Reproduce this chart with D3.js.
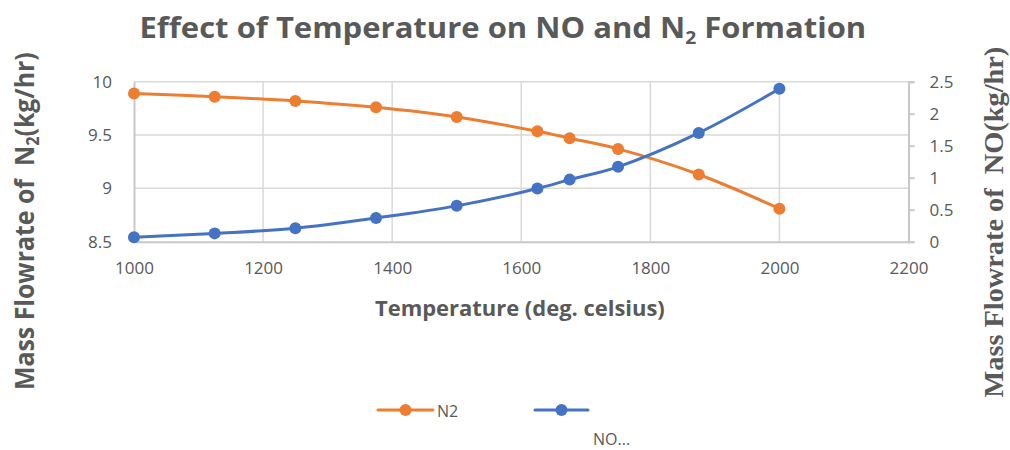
<!DOCTYPE html>
<html>
<head>
<meta charset="utf-8">
<script src="https://cdn.jsdelivr.net/npm/d3@7"></script>
<style>
  html, body { margin: 0; padding: 0; background: #ffffff; }
  svg { display: block; }
  text { font-family: "Open Sans", "DejaVu Sans", sans-serif; fill: #595959; white-space: pre; }
</style>
</head>
<body>
<svg id="chart" width="1010" height="450"></svg>
<script>
// Temperature (deg. celsius)
const temperatures = [1000, 1125, 1250, 1375, 1500, 1625, 1675, 1750, 1875, 2000];
// Mass flowrate of N2 (kg/hr), left axis
const n2Flow = [9.89, 9.86, 9.82, 9.76, 9.67, 9.535, 9.47, 9.37, 9.13, 8.81];
// Mass flowrate of NO (kg/hr), right axis
const noFlow = [0.07, 0.13, 0.21, 0.37, 0.56, 0.83, 0.97, 1.17, 1.70, 2.39];

const xTicks = [1000, 1200, 1400, 1600, 1800, 2000, 2200];
const leftTicks = [8.5, 9, 9.5, 10];
const rightTicks = [0, 0.5, 1, 1.5, 2, 2.5];
const seriesNames = ["N2", "NO..."];

const ORANGE = "#ED7D31";
const BLUE = "#4472C4";
const GRID = "#d9d9d9";
const AXIS = "#c8c8c8";

const svg = d3.select("#chart");

const plot = { left: 134, right: 908.5, top: 81.7, bottom: 241.7 };

const x = d3.scaleLinear().domain([1000, 2200]).range([plot.left, plot.right]);
const yL = d3.scaleLinear().domain([8.5, 10]).range([plot.bottom, plot.top]);
const yR = d3.scaleLinear().domain([0, 2.5]).range([plot.bottom, plot.top]);

// Gridlines
const grid = svg.append("g");
grid.selectAll("line.h").data(leftTicks.filter(d => d > 8.5)).join("line")
  .attr("x1", plot.left).attr("x2", plot.right)
  .attr("y1", d => yL(d)).attr("y2", d => yL(d))
  .attr("stroke", GRID).attr("stroke-width", 1.5);
grid.selectAll("line.v").data(xTicks.filter(d => d > 1000 && d < 2200)).join("line")
  .attr("y1", plot.top).attr("y2", plot.bottom)
  .attr("x1", d => x(d)).attr("x2", d => x(d))
  .attr("stroke", GRID).attr("stroke-width", 1.5);

// Bottom axis
const xAxis = svg.append("g")
  .attr("transform", `translate(0,${plot.bottom})`)
  .call(d3.axisBottom(x).tickValues(xTicks).tickSize(0).tickPadding(20).tickFormat(d3.format("d")));
xAxis.select(".domain").attr("stroke", AXIS).attr("stroke-width", 2);
xAxis.selectAll("text").attr("font-size", 17).attr("fill", "#595959")
  .style("font-family", "'Open Sans', sans-serif");

// Left axis
const leftAxis = svg.append("g")
  .attr("transform", `translate(${plot.left},0)`)
  .call(d3.axisLeft(yL).tickValues(leftTicks).tickSize(0).tickPadding(22).tickFormat(d => String(d)));
leftAxis.select(".domain").attr("stroke", AXIS).attr("stroke-width", 2);
leftAxis.selectAll("text").attr("font-size", 17).attr("fill", "#595959")
  .style("font-family", "'Open Sans', sans-serif");

// Right axis
const rightAxis = svg.append("g")
  .attr("transform", `translate(${plot.right},0)`)
  .call(d3.axisRight(yR).tickValues(rightTicks).tickSize(6).tickPadding(15).tickFormat(d => String(d)));
rightAxis.select(".domain").attr("stroke", AXIS).attr("stroke-width", 2);
rightAxis.selectAll(".tick line").attr("stroke", AXIS).attr("stroke-width", 2);
rightAxis.selectAll("text").attr("font-size", 17).attr("fill", "#595959")
  .style("font-family", "'Open Sans', sans-serif");

// Series lines and markers
const curve = d3.curveCatmullRom.alpha(0.5);
function drawSeries(values, yScale, color) {
  const pts = temperatures.map((t, i) => [t, values[i]]);
  const line = d3.line().x(d => x(d[0])).y(d => yScale(d[1])).curve(curve);
  svg.append("path").datum(pts)
    .attr("d", line).attr("fill", "none")
    .attr("stroke", color).attr("stroke-width", 3).attr("stroke-linecap", "round");
  svg.append("g").selectAll("circle").data(pts).join("circle")
    .attr("cx", d => x(d[0])).attr("cy", d => yScale(d[1]))
    .attr("r", 6).attr("fill", color);
}
drawSeries(n2Flow, yL, ORANGE);
drawSeries(noFlow, yR, BLUE);

// Fit a text node horizontally into a given width around a centre point
function fitWidth(node, cx, width) {
  const bb = node.getBBox();
  const s = width / bb.width;
  const mid = bb.x + bb.width / 2;
  d3.select(node).attr("transform",
    `translate(${cx},0) scale(${s},1) translate(${-mid},0)`);
}

// Chart title
const title = svg.append("text")
  .attr("x", 0).attr("y", 38)
  .attr("font-size", 29).attr("font-weight", "bold").attr("fill", "#595959");
title.append("tspan").text("Effect of Temperature on NO and N");
title.append("tspan").text("2").attr("font-size", 18).attr("dy", 6);
title.append("tspan").text(" Formation").attr("dy", -6);
fitWidth(title.node(), 503, 727);

// X axis title
const xTitle = svg.append("text")
  .attr("x", 0).attr("y", 316)
  .attr("font-size", 21).attr("font-weight", "bold").attr("fill", "#595959")
  .text("Temperature (deg. celsius)");
fitWidth(xTitle.node(), 520, 290);

// Left axis title (rotated)
const lGroup = svg.append("g").attr("transform", "translate(34,221) rotate(-90)");
const lTitle = lGroup.append("text")
  .attr("x", 0).attr("y", 0)
  .attr("font-size", 26).attr("font-weight", "bold").attr("fill", "#595959");
lTitle.append("tspan").text("Mass Flowrate of  N");
lTitle.append("tspan").text("2").attr("font-size", 17).attr("dy", 5);
lTitle.append("tspan").text("(kg/hr)").attr("dy", -5);
fitWidth(lTitle.node(), 0, 338);

// Right axis title (rotated, serif)
const rGroup = svg.append("g").attr("transform", "translate(1003,222) rotate(-90)");
const rTitle = rGroup.append("text")
  .attr("x", 0).attr("y", 0)
  .attr("font-size", 27).attr("font-weight", "bold")
  .style("font-family", "'Liberation Serif', 'DejaVu Serif', serif")
  .attr("fill", "#595959")
  .text("Mass Flowrate of  NO(kg/hr)");
fitWidth(rTitle.node(), 0, 351);

// Legend
const legend = svg.append("g");
const legendItems = [
  { name: seriesNames[0], color: ORANGE, x1: 378, x2: 433, tx: 437, ty: 417 },
  { name: seriesNames[1], color: BLUE, x1: 535, x2: 588, tx: 593, ty: 445 }
];
legendItems.forEach(it => {
  legend.append("line")
    .attr("x1", it.x1).attr("x2", it.x2).attr("y1", 410).attr("y2", 410)
    .attr("stroke", it.color).attr("stroke-width", 3).attr("stroke-linecap", "round");
  legend.append("circle")
    .attr("cx", (it.x1 + it.x2) / 2).attr("cy", 410).attr("r", 6).attr("fill", it.color);
  legend.append("text")
    .attr("x", it.tx).attr("y", it.ty)
    .attr("font-size", 16).attr("fill", "#595959")
    .text(it.name);
});
</script>
</body>
</html>
